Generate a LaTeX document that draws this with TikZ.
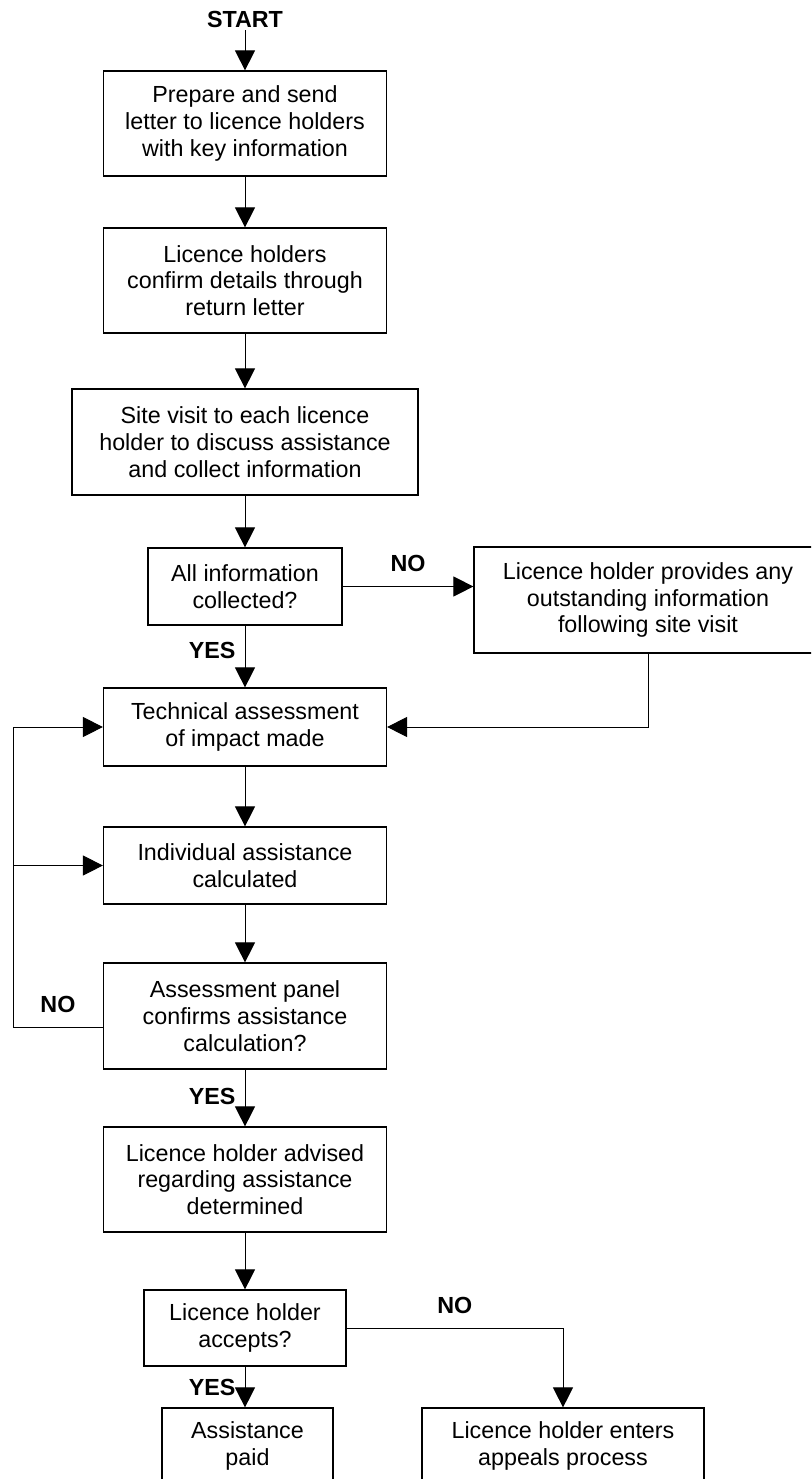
\documentclass[tikz,border=0pt]{standalone}
\usepackage{fontspec}
\setmainfont{Liberation Sans}
\usetikzlibrary{arrows.meta}

\begin{document}
\begin{tikzpicture}[x=1pt,y=-1pt,
    box/.style={draw,line width=1.2pt,inner sep=0pt,align=center,font=\fontsize{23.3}{26.8}\selectfont},
    lab/.style={font=\bfseries\fontsize{23.3}{26.8}\selectfont,inner sep=3pt},
    arr/.style={line width=1pt,-{Triangle[width=20pt,length=20pt]}}]
    \useasboundingbox (0,0) rectangle (811,1479);
    \clip (0,0) rectangle (811,1479);
    \fill[color=white] (0,0) rectangle (811,1479);

    \node[lab] (start) at (245,19) {START};
    \node[box,minimum width=283pt,minimum height=105pt] (letter) at (245,123.5) {Prepare and send\\letter to licence holders\\with key information};
    \node[box,minimum width=283pt,minimum height=105pt] (confirm) at (245,280.5) {Licence holders\\confirm details through\\return letter};
    \node[box,minimum width=346pt,minimum height=106pt] (visit) at (245,442) {Site visit to each licence\\holder to discuss assistance\\and collect information};
    \node[box,minimum width=194pt,minimum height=77pt] (allinfo) at (245,586.5) {All information\\collected?};
    \node[box,minimum width=348pt,minimum height=106pt] (provide) at (648,600) {Licence holder provides any\\outstanding information\\following site visit};
    \node[box,minimum width=283pt,minimum height=78pt] (tech) at (245,727) {Technical assessment\\of impact made};
    \node[box,minimum width=283pt,minimum height=77pt] (calc) at (245,865.5) {Individual assistance\\calculated};
    \node[box,minimum width=283pt,minimum height=106pt] (panel) at (245,1016) {Assessment panel\\confirms assistance\\calculation?};
    \node[box,minimum width=283pt,minimum height=105pt] (advised) at (245,1179.5) {Licence holder advised\\regarding assistance\\determined};
    \node[box,minimum width=202pt,minimum height=76pt] (accepts) at (245,1328) {Licence holder\\accepts?};
    \node[box,minimum width=171pt,minimum height=76pt] (paid) at (247.5,1446) {Assistance\\paid};
    \node[box,minimum width=282pt,minimum height=76pt] (appeal) at (563,1446) {Licence holder enters\\appeals process};

    \draw[arr] (start) -- (letter);
    \draw[arr] (letter) -- (confirm);
    \draw[arr] (confirm) -- (visit);
    \draw[arr] (visit) -- (allinfo);
    \draw[arr] (allinfo.east) -- node[lab,above=11pt]{NO} (allinfo.east -| provide.west);
    \draw[arr] (allinfo) -- node[lab,left=6pt,pos=0.41]{YES} (tech);
    \draw[arr] (provide.south) |- (tech.east);
    \draw[arr] (tech) -- (calc);
    \draw[arr] (calc) -- (panel);

    \coordinate (rail) at (13,1027);
    \draw[arr] (panel.west |- rail) -- node[lab,above=11pt]{NO} (rail) |- (tech.west);
    \draw[arr] (rail |- calc.west) -- (calc.west);

    \draw[arr] (panel) -- node[lab,left=6pt,pos=0.48]{YES} (advised);
    \draw[arr] (advised) -- (accepts);
    \draw[arr] (accepts.east) -| node[lab,above=11pt,pos=0.25]{NO} (appeal.north);
    \draw[arr] (accepts.south) -- node[lab,left=6pt]{YES} (accepts.south |- paid.north);
\end{tikzpicture}
\end{document}
